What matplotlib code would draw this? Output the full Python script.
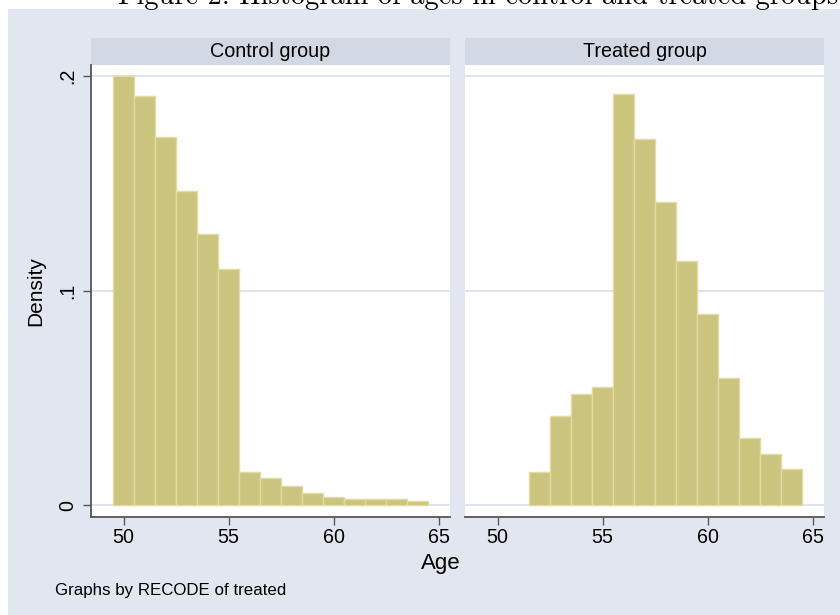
import numpy as np
import matplotlib.pyplot as plt
from matplotlib.patches import Rectangle

# histogram data (density, bin width 1 year)
control_left = [49.5, 50.5, 51.5, 52.5, 53.5, 54.5, 55.5, 56.5, 57.5, 58.5,
                59.5, 60.5, 61.5, 62.5, 63.5]
control_density = [0.200, 0.1908, 0.1716, 0.1462, 0.1265, 0.1103, 0.0155, 0.0126,
                   0.0089, 0.0056, 0.0039, 0.0028, 0.0028, 0.0028, 0.0019]
treated_left = [51.5, 52.5, 53.5, 54.5, 55.5, 56.5, 57.5, 58.5, 59.5, 60.5,
                61.5, 62.5, 63.5]
treated_density = [0.0157, 0.0417, 0.0517, 0.0552, 0.1916, 0.1705, 0.1415, 0.1138,
                   0.0891, 0.0592, 0.0315, 0.0239, 0.0171]
panel_titles = ['Control group', 'Treated group']
x_ticks = [50, 55, 60, 65]
y_ticks = [0, 0.1, 0.2]
y_ticklabels = ['0', '.1', '.2']

W, H = 840, 615
bg = '#E1E6F0'
strip_c = '#D2D9E5'
bar_c = '#CBC47F'
bar_edge = '#E2DBA2'
grid_c = '#DDE3F1'
axis_c = '#555555'

plt.rcParams['font.family'] = ['Liberation Sans', 'DejaVu Sans']

fig = plt.figure(figsize=(W / 100, H / 100), dpi=100)
fig.patch.set_facecolor('white')

def fx(px):
    return px / W

def fy(py):
    return 1 - py / H

# graph region background
fig.patches.append(Rectangle((fx(8), 0), 1 - fx(8), fy(9), transform=fig.transFigure,
                             facecolor=bg, edgecolor='none', zorder=-10))

# title (cut off at top in the original)
fig.text(fx(118), fy(4), 'Figure 2: Histogram of ages in control and treated groups',
         family='cmr10', fontsize=20.5, va='baseline', ha='left', zorder=-5)

top, bottom = 65, 516.7
panels = [(91, 450), (465, 824.3)]
data = [(control_left, control_density), (treated_left, treated_density)]

for i, ((x0, x1), (lefts, dens)) in enumerate(zip(panels, data)):
    ax = fig.add_axes([fx(x0), fy(bottom), fx(x1 - x0), (bottom - top) / H])
    ax.set_facecolor('white')
    ax.bar(lefts, dens, width=1, align='edge', color=bar_c, edgecolor=bar_edge,
           linewidth=1.0, zorder=3)
    ax.set_xlim(48.45, 65.54)
    ax.set_ylim(-0.0053, 0.2051)
    for yv in y_ticks:
        ax.axhline(yv, color=grid_c, lw=1.4, zorder=1)
    ax.set_xticks(x_ticks)
    ax.set_xticklabels([str(t) for t in x_ticks], fontsize=14.2)
    for s in ['top', 'right']:
        ax.spines[s].set_visible(False)
    ax.spines['bottom'].set_color(axis_c)
    ax.spines['bottom'].set_linewidth(1.3)
    ax.tick_params(axis='x', length=6, width=1.0, color=axis_c, pad=2)
    if i == 0:
        ax.set_yticks(y_ticks)
        ax.set_yticklabels(y_ticklabels, fontsize=14.2, rotation=90, va='center')
        ax.spines['left'].set_color(axis_c)
        ax.spines['left'].set_linewidth(1.3)
        ax.tick_params(axis='y', length=6, width=1.0, color=axis_c, pad=4)
    else:
        ax.spines['left'].set_visible(False)
        ax.set_yticks([])
    # strip header
    fig.patches.append(Rectangle((fx(x0), fy(top)), fx(x1 - x0), (top - 37.7) / H,
                                 transform=fig.transFigure, facecolor=strip_c,
                                 edgecolor='none', zorder=-5))
    fig.text(fx((x0 + x1) / 2), fy((top + 37.7) / 2), panel_titles[i], fontsize=14.2,
             ha='center', va='center')

fig.text(fx(36), fy(291), 'Density', fontsize=15, rotation=90, ha='center', va='center')
fig.text(fx(441), fy(564), 'Age', fontsize=16, ha='center', va='center')
fig.text(fx(55), fy(591), 'Graphs by RECODE of treated', fontsize=12.2,
         ha='left', va='center')

fig.savefig('out.png', dpi=100, facecolor=fig.get_facecolor())
